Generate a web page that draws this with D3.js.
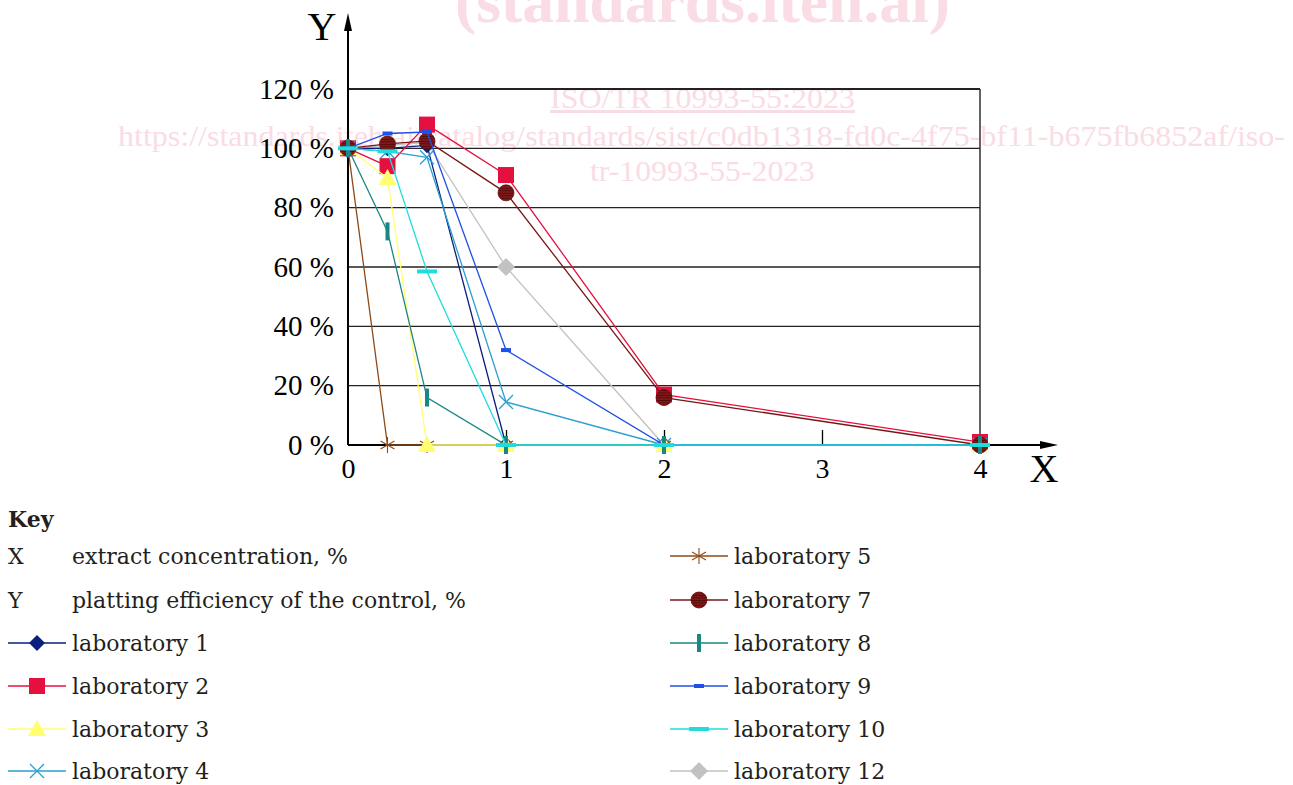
<!DOCTYPE html>
<html>
<head>
<meta charset="utf-8">
<script src="https://cdn.jsdelivr.net/npm/d3@7"></script>
<style>
  body { margin: 0; background: #fff; }
  svg { display: block; }
</style>
</head>
<body>
<div id="wrapper"></div>
<script>
// x positions (extract concentration, %)
const concentrations = [0, 0.25, 0.5, 1, 2, 4]
const yTicks = [0, 20, 40, 60, 80, 100, 120]
const xTicks = [0, 1, 2, 3, 4]

const labNames = ['laboratory 1', 'laboratory 2', 'laboratory 3', 'laboratory 4', 'laboratory 5',
    'laboratory 7', 'laboratory 8', 'laboratory 9', 'laboratory 10', 'laboratory 12']

// platting efficiency of the control, %
const lab1 = [100, 100, 101, 0, 0, 0]
const lab2 = [100, 94, 108, 91, 17, 1]
const lab3 = [100, 90, 0, 0, 0, 0]
const lab4 = [100, 99, 97, 14.5, 0, 0]
const lab5 = [100, 0, 0, 0, 0, 0]
const lab7 = [100, 101.5, 102.5, 85, 16, 0]
const lab8 = [100, 72, 16, 0, 0, 0]
const lab9 = [100, 105, 105.5, 32, 0, 0]
const lab10 = [100, 99, 58.5, 0, 0, 0]
const lab12 = [100, 101, 102, 60, 0, 0]

const seriesValues = [lab1, lab2, lab3, lab4, lab5, lab7, lab8, lab9, lab10, lab12]

const styles = [
    { color: '#0b1f7c', marker: 'diamond' },
    { color: '#e4103f', marker: 'square' },
    { color: '#ffff70', marker: 'triangle' },
    { color: '#2a9fd0', marker: 'x' },
    { color: '#8e4a16', marker: 'asterisk' },
    { color: '#7a1616', marker: 'circle' },
    { color: '#1b8783', marker: 'vbar' },
    { color: '#2050e8', marker: 'dash' },
    { color: '#22dcdc', marker: 'wide' },
    { color: '#c2c2c2', marker: 'gdiamond' }
]

// stacking order of the plotted series (bottom first)
const drawOrder = [9, 0, 1, 3, 4, 2, 5, 6, 7, 8]

const series = labNames.map((name, i) => ({
    name,
    style: styles[i],
    points: concentrations.map((c, j) => ({ x: c, y: seriesValues[i][j] }))
}))

const dimensions = {
    width: 1293,
    height: 785,
    margins: { top: 89, left: 348 },
    boundedWidth: 632,
    boundedHeight: 356
}

const svg = d3.select('#wrapper')
    .append('svg')
    .attr('width', dimensions.width)
    .attr('height', dimensions.height)

const defs = svg.append('defs')
const hatch = defs.append('pattern')
    .attr('id', 'hatch')
    .attr('patternUnits', 'userSpaceOnUse')
    .attr('width', 4)
    .attr('height', 2.5)
hatch.append('rect').attr('width', 4).attr('height', 2.5).attr('fill', '#7e1a1a')
hatch.append('rect').attr('width', 4).attr('height', 0.8).attr('fill', '#4e0808')

// watermark
const wm = svg.append('g')
    .attr('fill', '#fadce5')
    .style('font-family', '"Liberation Serif", serif')
wm.append('text')
    .attr('x', 455).attr('y', 22)
    .attr('textLength', 495).attr('lengthAdjust', 'spacingAndGlyphs')
    .style('font-size', '62px').style('font-weight', 'bold')
    .text('(standards.iteh.ai)')
wm.append('text')
    .attr('x', 550).attr('y', 108)
    .attr('textLength', 305).attr('lengthAdjust', 'spacingAndGlyphs')
    .style('font-size', '30px')
    .style('text-decoration', 'underline')
    .text('ISO/TR 10993-55:2023')
wm.append('text')
    .attr('x', 118).attr('y', 146)
    .attr('textLength', 1167).attr('lengthAdjust', 'spacingAndGlyphs')
    .style('font-size', '30px')
    .text('https://standards.iteh.ai/catalog/standards/sist/c0db1318-fd0c-4f75-bf11-b675fb6852af/iso-')
wm.append('text')
    .attr('x', 590).attr('y', 181)
    .attr('textLength', 225).attr('lengthAdjust', 'spacingAndGlyphs')
    .style('font-size', '30px')
    .text('tr-10993-55-2023')

const bounds = svg.append('g')
    .attr('transform', `translate(${dimensions.margins.left}, ${dimensions.margins.top})`)

const xScale = d3.scaleLinear()
    .domain([0, 4])
    .range([0, dimensions.boundedWidth])

const yScale = d3.scaleLinear()
    .domain([0, 120])
    .range([dimensions.boundedHeight, 0])

// grid lines
bounds.append('g')
    .selectAll('line')
    .data(yTicks.filter(d => d > 0))
    .join('line')
    .attr('x1', 0)
    .attr('x2', dimensions.boundedWidth)
    .attr('y1', d => yScale(d))
    .attr('y2', d => yScale(d))
    .attr('stroke', '#222')
    .attr('stroke-width', d => d === 120 ? 2 : 1.4)

bounds.append('line')
    .attr('x1', xScale(4)).attr('x2', xScale(4))
    .attr('y1', yScale(120)).attr('y2', yScale(0))
    .attr('stroke', '#222').attr('stroke-width', 1.4)

// axes
const tickFont = '"Liberation Serif", serif'

const yAxis = bounds.append('g')
    .call(d3.axisLeft(yScale).tickValues(yTicks).tickSize(0).tickPadding(14).tickFormat(d => d + ' %'))
yAxis.select('.domain').remove()
yAxis.selectAll('text')
    .style('font-family', tickFont)
    .style('font-size', '29px')
    .attr('fill', '#000')

const xAxis = bounds.append('g')
    .attr('transform', `translate(0, ${dimensions.boundedHeight})`)
    .call(d3.axisBottom(xScale).tickValues(xTicks).tickFormat(d3.format('d'))
        .tickSizeInner(-15).tickSizeOuter(0).tickPadding(13))
xAxis.select('.domain').remove()
xAxis.selectAll('.tick line')
    .attr('stroke', '#000')
    .attr('stroke-width', 1.3)
    .filter(d => d === 0 || d === 4).remove()
xAxis.selectAll('text')
    .style('font-family', tickFont)
    .style('font-size', '28px')
    .attr('fill', '#000')

// axis lines with arrow heads
bounds.append('line')
    .attr('x1', 0).attr('x2', 0)
    .attr('y1', dimensions.boundedHeight).attr('y2', -68)
    .attr('stroke', '#000').attr('stroke-width', 2)
bounds.append('path')
    .attr('d', 'M0,-76 L-4,-58 L4,-58 Z')
    .attr('fill', '#000')
bounds.append('line')
    .attr('x1', 0).attr('x2', 700)
    .attr('y1', dimensions.boundedHeight).attr('y2', dimensions.boundedHeight)
    .attr('stroke', '#000').attr('stroke-width', 2)
bounds.append('path')
    .attr('d', `M710,${dimensions.boundedHeight} L692,${dimensions.boundedHeight - 4} L692,${dimensions.boundedHeight + 4} Z`)
    .attr('fill', '#000')

svg.append('text')
    .attr('x', 322).attr('y', 40)
    .attr('text-anchor', 'middle')
    .style('font-family', tickFont).style('font-size', '40px')
    .text('Y')
svg.append('text')
    .attr('x', 1044).attr('y', 482)
    .attr('text-anchor', 'middle')
    .style('font-family', tickFont).style('font-size', '40px')
    .text('X')

// marker drawing
function drawMarker(g, type, color) {
    if (type === 'diamond') {
        g.append('path').attr('d', 'M0,-8 L8,0 L0,8 L-8,0 Z').attr('fill', color)
    } else if (type === 'gdiamond') {
        g.append('path').attr('d', 'M0,-9 L9,0 L0,9 L-9,0 Z').attr('fill', color)
    } else if (type === 'square') {
        g.append('rect').attr('x', -8).attr('y', -8).attr('width', 16).attr('height', 16).attr('fill', color)
    } else if (type === 'triangle') {
        g.append('path').attr('d', 'M0,-9 L9,7 L-9,7 Z').attr('fill', color)
    } else if (type === 'x') {
        g.append('path').attr('d', 'M-7,-7 L7,7 M-7,7 L7,-7').attr('stroke', color).attr('stroke-width', 1.3)
    } else if (type === 'asterisk') {
        g.append('path').attr('d', 'M0,-8 L0,8 M-7,-4 L7,4 M-7,4 L7,-4').attr('stroke', color).attr('stroke-width', 1.1)
    } else if (type === 'circle') {
        g.append('circle').attr('r', 8).attr('fill', 'url(#hatch)').attr('stroke', '#6a1010').attr('stroke-width', 0.8)
    } else if (type === 'vbar') {
        g.append('rect').attr('x', -2).attr('y', -9).attr('width', 4).attr('height', 18).attr('fill', color)
    } else if (type === 'dash') {
        g.append('rect').attr('x', -5).attr('y', -2).attr('width', 10).attr('height', 4).attr('fill', color)
    } else if (type === 'wide') {
        g.append('rect').attr('x', -10).attr('y', -2).attr('width', 20).attr('height', 4).attr('fill', color)
    }
}

const lineGenerator = d3.line()
    .x(d => xScale(d.x))
    .y(d => yScale(d.y))

const seriesGroups = bounds.append('g')
    .selectAll('g')
    .data(drawOrder.map(i => series[i]))
    .join('g')

seriesGroups.append('path')
    .attr('d', d => lineGenerator(d.points))
    .attr('fill', 'none')
    .attr('stroke', d => d.style.color)
    .attr('stroke-width', 1.3)

seriesGroups.each(function (s) {
    d3.select(this).selectAll('g.marker')
        .data(s.points)
        .join('g')
        .attr('class', 'marker')
        .attr('transform', d => `translate(${xScale(d.x)}, ${yScale(d.y)})`)
        .each(function () { drawMarker(d3.select(this), s.style.marker, s.style.color) })
})

// key
const keyFont = '"DejaVu Serif", serif'
const key = svg.append('g')
    .style('font-family', keyFont)
    .style('font-size', '22px')
    .attr('fill', '#231f20')

key.append('text')
    .attr('x', 8).attr('y', 527)
    .style('font-weight', 'bold')
    .text('Key')

const rowY = [556, 600, 643, 686, 729, 771]
const axisKey = [['X', 'extract concentration, %'], ['Y', 'platting efficiency of the control, %']]
axisKey.forEach(([k, label], i) => {
    key.append('text').attr('x', 8).attr('y', rowY[i]).attr('dy', '0.35em').text(k)
    key.append('text').attr('x', 72).attr('y', rowY[i]).attr('dy', '0.35em').text(label)
})

series.forEach((s, i) => {
    const left = i < 4
    const y = left ? rowY[i + 2] : rowY[i - 4]
    const x0 = left ? 8 : 670
    const item = key.append('g').attr('transform', `translate(${x0}, ${y})`)
    item.append('line')
        .attr('x1', 0).attr('x2', 58)
        .attr('stroke', s.style.color)
        .attr('stroke-width', 1.3)
    const m = item.append('g').attr('transform', 'translate(29, 0)')
    drawMarker(m, s.style.marker, s.style.color)
    item.append('text')
        .attr('x', 64).attr('dy', '0.35em')
        .text(s.name)
})
</script>
</body>
</html>
